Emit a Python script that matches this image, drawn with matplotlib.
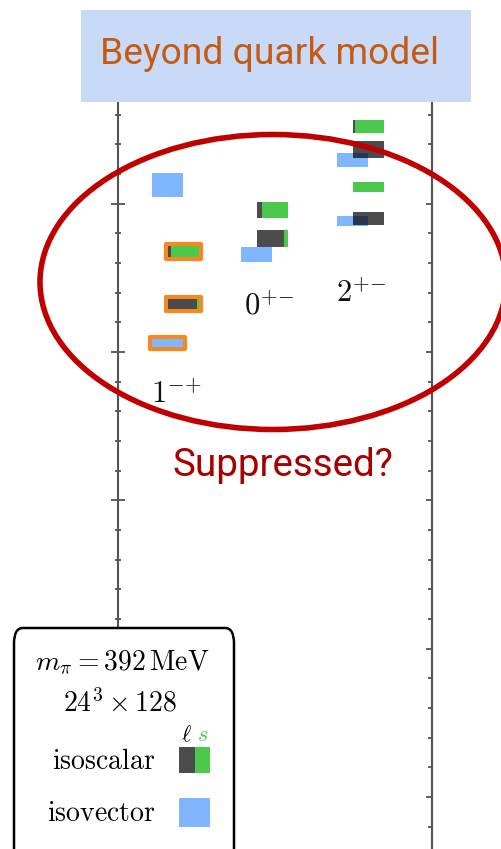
"""Exotic meson spectrum slide: lattice levels beyond the quark model."""

import matplotlib

matplotlib.use("Agg")
import matplotlib.pyplot as plt
from matplotlib.patches import Ellipse, FancyBboxPatch, Rectangle
from matplotlib.ticker import MultipleLocator

W, H, DPI = 501, 849, 100

DARK = "black"
DARK_ALPHA = 0.7
GREEN = "#4cc84c"
BLUE = "#80b6ff"
ORANGE = "#f5891f"
RED = "#c00000"

# Channels (x position of the isoscalar column) and their labels
CHANNELS = ["1^{-{+}}", "0^{+{-}}", "2^{+{-}}"]
CHANNEL_X = [1.0, 1.96, 3.0]

# Isoscalar levels: channel index, mass (MeV), half-height, light-quark fraction
ISO_CHANNEL = [0, 0, 1, 1, 2, 2, 2, 2]
ISO_MASS = [2339, 2162, 2478, 2382, 2760, 2682, 2556, 2450]
ISO_ERR = [18, 17, 27, 29, 22, 29, 17, 22]
ISO_LIGHT = [0.10, 0.93, 0.16, 0.87, 0.05, 1.0, 0.0, 1.0]
ISO_HIGHLIGHT = [True, True, False, False, False, False, False, False]

# Isovector levels: channel index, mass (MeV), half-height
IV_CHANNEL = [0, 0, 1, 2, 2]
IV_MASS = [2563, 2030, 2329, 2647, 2441]
IV_ERR = [40, 13, 25, 24, 17]
IV_HIGHLIGHT = [False, True, False, False, False]

BOX_W = 0.335
IV_SHIFT = -0.17
# orange frame sits a couple of pixels outside the box
PAD_X, PAD_Y = 0.022, 7

plt.rcParams["mathtext.fontset"] = "cm"

fig = plt.figure(figsize=(W / DPI, H / DPI), dpi=DPI)


def fx(px):
    return px / W


def fy(py):
    return 1 - py / H


ax = fig.add_axes([fx(118), 0, fx(432) - fx(118), fy(100)])
ax.set_xlim(0.292, 3.686)
ax.set_ylim(325, 2850)
for side in ("top", "bottom"):
    ax.spines[side].set_visible(False)
for side in ("left", "right"):
    ax.spines[side].set_color("#555555")
    ax.spines[side].set_linewidth(1.5)
ax.set_xticks([])
ax.yaxis.set_major_locator(MultipleLocator(500))
ax.yaxis.set_minor_locator(MultipleLocator(100))
ax.tick_params(axis="y", which="major", direction="inout", length=9.5, width=1.1,
               color="#333333", labelleft=False, right=False)
ax.tick_params(axis="y", which="minor", direction="inout", length=5, width=1.1,
               color="#333333", right=False)

right_ax = ax.secondary_yaxis("right")
right_ax.spines["right"].set_color("#555555")
right_ax.spines["right"].set_linewidth(1.5)
right_ax.yaxis.set_major_locator(MultipleLocator(500))
right_ax.yaxis.set_minor_locator(MultipleLocator(100))
right_ax.tick_params(which="major", direction="in", length=4.5, width=1.1,
                     color="#333333", labelright=False)
right_ax.tick_params(which="minor", direction="in", length=3, width=1.1,
                     color="#333333")


def frame(x0, lo, height):
    ax.add_patch(Rectangle((x0 - PAD_X, lo - PAD_Y), BOX_W + 2 * PAD_X,
                           height + 2 * PAD_Y, fc="none", ec=ORANGE, lw=3.0,
                           joinstyle="round", zorder=2))


# isovector boxes first, isoscalar on top (dark part is translucent)
for ch, m, e, hl in zip(IV_CHANNEL, IV_MASS, IV_ERR, IV_HIGHLIGHT):
    x0 = CHANNEL_X[ch] + IV_SHIFT - BOX_W / 2
    if hl:
        frame(x0, m - e, 2 * e)
    ax.add_patch(Rectangle((x0, m - e), BOX_W, 2 * e, fc=BLUE, ec="none", zorder=3))

for ch, m, e, frac, hl in zip(ISO_CHANNEL, ISO_MASS, ISO_ERR, ISO_LIGHT, ISO_HIGHLIGHT):
    x0 = CHANNEL_X[ch] - BOX_W / 2
    if hl:
        frame(x0, m - e, 2 * e)
    ax.add_patch(Rectangle((x0, m - e), BOX_W * frac, 2 * e, fc=DARK,
                           alpha=DARK_ALPHA, ec="none", zorder=4))
    ax.add_patch(Rectangle((x0 + BOX_W * frac, m - e), BOX_W * (1 - frac), 2 * e,
                           fc=GREEN, ec="none", zorder=4))

label_pos = [(0.92, 1828), (1.92, 2128), (2.92, 2168)]
for name, (lx, ly) in zip(CHANNELS, label_pos):
    ax.text(lx, ly, f"${name}$", ha="center", va="baseline", fontsize=22,
            color="#111111", zorder=5)

# title banner
fig.patches.append(Rectangle((fx(81), fy(102)), fx(471) - fx(81), fy(10) - fy(102),
                             transform=fig.transFigure, fc="#c9daf8", ec="none",
                             zorder=10))
fig.text(fx(100), fy(64), "Beyond quark model", fontsize=26.8, family="Roboto",
         color="#c55a11", ha="left", va="baseline", zorder=11)

# red ellipse and caption
fig.patches.append(Ellipse((fx(273), fy(282)), fx(466), 295 / H,
                           transform=fig.transFigure, fc="none", ec=RED,
                           lw=4, zorder=9))
fig.text(fx(172), fy(476), "Suppressed?", fontsize=27.8, family="Roboto",
         color="#a80000", ha="left", va="baseline", zorder=11)

# legend box
fig.patches.append(FancyBboxPatch((fx(14), fy(880)), fx(234) - fx(14), fy(628) - fy(880),
                                  boxstyle="round,pad=0,rounding_size=0.018",
                                  transform=fig.transFigure, fc="white", ec="black",
                                  lw=1.8, zorder=12))
fig.text(fx(122), fy(670), r"$m_\pi = 392\,\mathrm{MeV}$", fontsize=20,
         ha="center", va="baseline", zorder=13)
fig.text(fx(120), fy(712), r"$24^3 \times 128$", fontsize=20,
         ha="center", va="baseline", zorder=13)
fig.text(fx(186), fy(741), r"$\ell$", fontsize=16, ha="center", va="baseline", zorder=13)
fig.text(fx(203), fy(741), r"$s$", fontsize=16, color=GREEN, ha="center",
         va="baseline", zorder=13)
fig.text(fx(52), fy(769), r"$\mathrm{isoscalar}$", fontsize=20, ha="left",
         va="baseline", zorder=13)
fig.text(fx(47), fy(821), r"$\mathrm{isovector}$", fontsize=20, ha="left",
         va="baseline", zorder=13)
fig.patches.append(Rectangle((fx(179), fy(773)), fx(16), 26 / H, transform=fig.transFigure,
                             fc=DARK, alpha=DARK_ALPHA, ec="none", zorder=13))
fig.patches.append(Rectangle((fx(195), fy(773)), fx(15), 26 / H, transform=fig.transFigure,
                             fc=GREEN, ec="none", zorder=13))
fig.patches.append(Rectangle((fx(179), fy(827)), fx(31), 29 / H, transform=fig.transFigure,
                             fc=BLUE, ec="none", zorder=13))

fig.savefig("out.png", dpi=DPI)
